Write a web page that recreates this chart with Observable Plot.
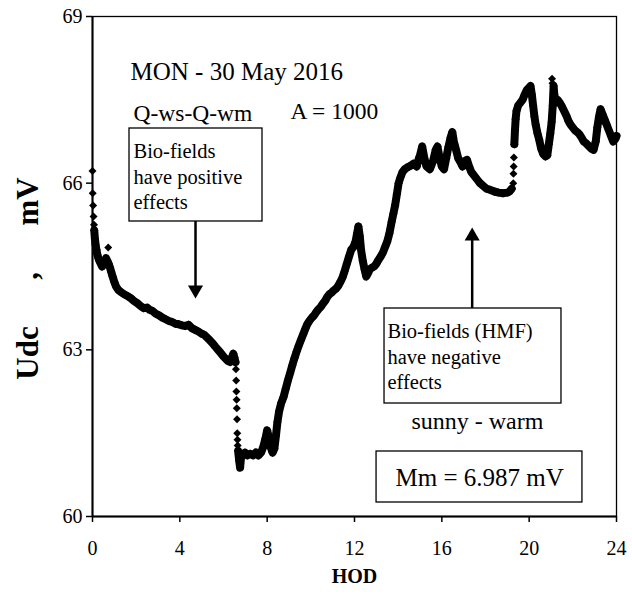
<!DOCTYPE html>
<html>
<head>
<meta charset="utf-8">
<script src="https://cdn.jsdelivr.net/npm/d3@7"></script>
<script src="https://cdn.jsdelivr.net/npm/@observablehq/plot@0.6"></script>
<style>
  html, body { margin: 0; padding: 0; background: #fff; }
  #chart { width: 632px; height: 596px; }
</style>
</head>
<body>
<div id="chart"></div>
<script>
// ---- chart values ----
const xTicks = [0, 4, 8, 12, 16, 20, 24];
const yTicks = [60, 63, 66, 69];

// continuous trace, piece 1 (morning decay)
const hodA = [0.08,0.11,0.14,0.18,0.22,0.27,0.32,0.38,0.44,0.5,0.56,0.62,0.68,0.74,0.8,0.86,0.92,1.0,1.08,1.18,1.3,1.45,1.6,1.75,1.9,2.05,2.2,2.35,2.5,2.62,2.75,2.9,3.05,3.2,3.35,3.5,3.65,3.8,3.95,4.1,4.25,4.4,4.55,4.7,4.85,5.0,5.12,5.25,5.38,5.5,5.62,5.75,5.88,6.0,6.1,6.2,6.3,6.38,6.45,6.5,6.55];
const udcA = [65.15,65.0,64.9,64.8,64.72,64.65,64.6,64.55,64.5,64.53,64.6,64.65,64.6,64.55,64.48,64.4,64.32,64.22,64.14,64.08,64.04,64.0,63.97,63.93,63.88,63.84,63.79,63.75,63.76,63.72,63.7,63.65,63.62,63.58,63.55,63.52,63.5,63.47,63.46,63.44,63.43,63.45,63.39,63.36,63.33,63.29,63.27,63.22,63.17,63.12,63.06,63.0,62.94,62.88,62.84,62.8,62.78,62.86,62.93,62.86,62.78];

// continuous trace, piece 2 (minimum, rise, afternoon)
const hodB = [6.67,6.72,6.76,6.8,6.88,6.98,7.1,7.22,7.35,7.48,7.6,7.72,7.82,7.92,8.0,8.08,8.16,8.25,8.33,8.4,8.47,8.55,8.65,8.75,8.85,8.95,9.05,9.15,9.25,9.35,9.45,9.55,9.65,9.75,9.85,9.95,10.05,10.15,10.25,10.35,10.45,10.55,10.65,10.75,10.85,10.95,11.05,11.15,11.25,11.35,11.45,11.55,11.65,11.75,11.85,11.95,12.05,12.12,12.18,12.24,12.3,12.38,12.46,12.54,12.62,12.7,12.8,12.9,13.0,13.1,13.2,13.3,13.4,13.5,13.6,13.7,13.78,13.86,13.94,14.02,14.1,14.2,14.3,14.4,14.5,14.6,14.7,14.85,14.95,15.0,15.1,15.2,15.3,15.45,15.6,15.72,15.8,15.9,16.0,16.1,16.2,16.3,16.4,16.48,16.55,16.65,16.75,16.85,16.95,17.05,17.15,17.25,17.35,17.45,17.55,17.65,17.75,17.9,18.05,18.2,18.4,18.6,18.8,19.0,19.1,19.2];
const udcB = [61.18,61.0,60.88,61.05,61.12,61.15,61.1,61.13,61.1,61.15,61.1,61.15,61.25,61.4,61.55,61.42,61.25,61.15,61.22,61.45,61.7,61.9,62.05,62.15,62.3,62.45,62.58,62.72,62.85,62.97,63.08,63.18,63.28,63.38,63.47,63.53,63.58,63.62,63.68,63.73,63.77,63.83,63.88,63.95,64.0,64.03,64.07,64.1,64.15,64.22,64.3,64.42,64.55,64.68,64.8,64.85,64.95,65.1,65.22,65.05,64.8,64.6,64.45,64.32,64.38,64.45,64.48,64.5,64.55,64.62,64.68,64.75,64.85,64.95,65.1,65.3,65.45,65.6,65.8,66.0,66.1,66.2,66.25,66.28,66.3,66.32,66.35,66.3,66.45,66.5,66.66,66.45,66.3,66.25,66.4,66.6,66.66,66.45,66.3,66.25,66.45,66.65,66.82,66.92,66.75,66.6,66.45,66.38,66.3,66.4,66.42,66.3,66.2,66.15,66.1,66.05,66.0,65.95,65.9,65.88,65.85,65.83,65.82,65.83,65.85,65.9];

// continuous trace, piece 3 (evening)
const hodC = [19.32,19.35,19.38,19.42,19.5,19.6,19.7,19.8,19.9,20.0,20.06,20.12,20.18,20.24,20.3,20.38,20.46,20.55,20.65,20.75,20.83,20.9,20.97,21.03,21.08,21.12,21.15,21.2,21.3,21.4,21.5,21.6,21.7,21.8,21.9,22.0,22.1,22.2,22.3,22.4,22.5,22.6,22.7,22.85,22.95,23.05,23.12,23.2,23.27,23.35,23.45,23.55,23.65,23.75,23.85,23.95,24.0];
const udcC = [66.7,66.95,67.15,67.3,67.4,67.45,67.5,67.6,67.68,67.72,67.75,67.6,67.4,67.2,67.05,66.9,66.78,66.62,66.52,66.48,66.5,66.7,66.9,67.1,67.4,67.75,67.6,67.45,67.5,67.45,67.38,67.3,67.22,67.12,67.05,67.0,66.95,66.92,66.88,66.82,66.75,66.72,66.68,66.62,66.6,66.75,67.0,67.2,67.33,67.25,67.15,67.05,66.95,66.85,66.75,66.8,66.85];

// isolated samples on steep jumps and outliers
const hodJ = [0.0,0.01,0.03,0.05,0.07,0.72,6.57,6.58,6.59,6.6,6.61,6.62,6.63,6.64,6.65,19.27,19.28,19.29,19.3,21.05,21.07];
const udcJ = [66.22,65.82,65.6,65.4,65.25,64.84,62.65,62.45,62.25,62.1,61.95,61.75,61.5,61.38,61.28,66.0,66.17,66.3,66.46,67.88,67.8];

// ---- build tables ----
const trace = [
  ...hodA.map((h, i) => ({h, v: udcA[i], piece: "A"})),
  ...hodB.map((h, i) => ({h, v: udcB[i], piece: "B"})),
  ...hodC.map((h, i) => ({h, v: udcC[i], piece: "C"}))
];
const jumps = hodJ.map((h, i) => ({h, v: udcJ[i]}));

// annotations (data units)
const labels = [
  {t: "MON - 30 May 2016", x: 1.74, y: 68.0, fs: 25, a: "start"},
  {t: "Q-ws-Q-wm", x: 1.88, y: 67.25, fs: 23.5, a: "start"},
  {t: "A = 1000", x: 9.07, y: 67.29, fs: 23.5, a: "start"},
  {t: "sunny - warm", x: 17.63, y: 61.71, fs: 24, a: "middle"},
  {t: "Mm = 6.987 mV", x: 17.73, y: 60.70, fs: 25, a: "middle"}
];
const boxes = [
  {x1: 1.695, x2: 7.786, y1: 66.984, y2: 65.31},
  {x1: 13.375, x2: 21.48, y1: 63.744, y2: 62.034},
  {x1: 13.01, x2: 22.44, y1: 61.17, y2: 60.252}
];
const boxTexts = [
  {t: "Bio-fields\nhave positive\neffects", x: 1.878, y: 66.138},
  {t: "Bio-fields (HMF)\nhave negative\neffects", x: 13.51, y: 62.898}
];
const arrows = [
  {x: 4.718, y1: 65.31, y2: 64.10, head: 64.08, rot: 180},
  {x: 17.39, y1: 63.744, y2: 65.0, head: 65.045, rot: 0}
];

const chart = Plot.plot({
  width: 632,
  height: 596,
  marginLeft: 92,
  marginRight: 16,
  marginTop: 16,
  marginBottom: 80,
  style: {fontFamily: "'Liberation Serif', 'Times New Roman', serif", fontSize: "20px", color: "#000", background: "#fff", overflow: "visible"},
  x: {domain: [0, 24]},
  y: {domain: [60, 69]},
  marks: [
    Plot.frame({stroke: "#000", strokeWidth: 1.3}),
    Plot.axisX({ticks: xTicks, tickSize: 6, tickPadding: 18, tickFormat: d => d, label: null, fontSize: 20, strokeWidth: 1.5}),
    Plot.axisY({ticks: yTicks, tickSize: 6, tickPadding: 4, tickFormat: d => d, label: null, fontSize: 20, strokeWidth: 1.5}),
    Plot.ruleX([0], {stroke: "#000", strokeWidth: 2}),
    Plot.ruleY([60], {stroke: "#000", strokeWidth: 2}),
    Plot.text(["Udc\u2003\u2002,\u2003\u2002mV"], {frameAnchor: "left", textAnchor: "middle", dx: -64, dy: 12, rotate: -90, fontSize: 31, fontWeight: "bold", fill: "#000"}),
    Plot.text(["HOD"], {frameAnchor: "bottom", dy: 66, fontSize: 20, fontWeight: "bold", fill: "#000"}),
    // data
    Plot.line(trace, {x: "h", y: "v", z: "piece", stroke: "#000", strokeWidth: 8, curve: "linear"}),
    Plot.dot(trace, {x: "h", y: "v", symbol: "diamond2", r: 3.8, fill: "#000", stroke: "none"}),
    Plot.dot(jumps, {x: "h", y: "v", symbol: "diamond2", r: 3.6, fill: "#000", stroke: "none"}),
    // annotations
    Plot.rect(boxes, {x1: "x1", x2: "x2", y1: "y1", y2: "y2", fill: "#fff", stroke: "#000", strokeWidth: 1.3}),
    Plot.text(boxTexts, {x: "x", y: "y", text: "t", textAnchor: "start", lineHeight: 1.25, fontSize: 20.5, fill: "#000"}),
    Plot.text(labels, {x: "x", y: "y", text: "t", textAnchor: "start", fontSize: d => d.fs, fill: "#000", filter: d => d.a === "start"}),
    Plot.text(labels, {x: "x", y: "y", text: "t", textAnchor: "middle", fontSize: d => d.fs, fill: "#000", filter: d => d.a === "middle"}),
    Plot.ruleX(arrows, {x: "x", y1: "y1", y2: "y2", stroke: "#000", strokeWidth: 2.5}),
    Plot.dot(arrows, {x: "x", y: "head", symbol: "triangle", r: 5.6, rotate: "rot", fill: "#000", stroke: "none"})
  ]
});
document.getElementById("chart").appendChild(chart);
</script>
</body>
</html>
